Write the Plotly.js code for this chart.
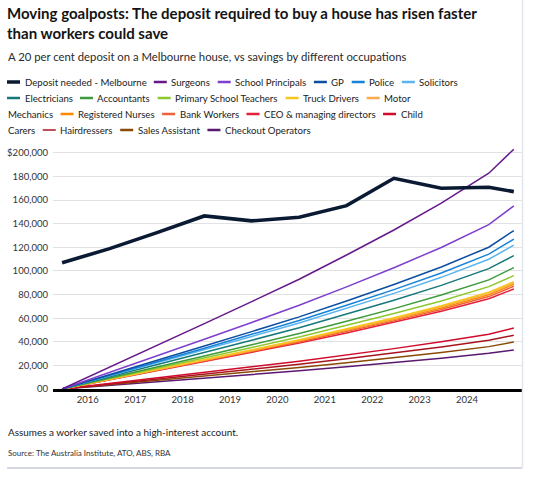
<!DOCTYPE html>
<html><head><meta charset="utf-8">
<script src="https://cdn.plot.ly/plotly-3.0.1.min.js"></script>
<style>html,body{margin:0;padding:0;background:#fff;overflow:hidden}#chart{width:534px;height:477px}</style>
</head><body><div id="chart"></div>
<script>
// ---- data ----
const dates = ["2015-07-01","2016-07-01","2017-07-01","2018-07-01","2019-07-01","2020-07-01","2021-07-01","2022-07-01","2023-07-01","2024-07-01","2025-01-10"];
const depositMelbourne = [107000,118900,132500,146600,142400,145500,155300,178500,170100,170900,167200];
const surgeons       = [0,18300,36700,55400,74000,93000,113500,134700,157400,182800,203100];
const principals     = [0,13900,28000,42200,56400,70900,86500,102700,119900,139300,155100];
const gp             = [0,12000,24100,36400,48600,61100,74600,88500,103400,120100,134200];
const police         = [0,11400,23000,34600,46300,58100,70900,84200,98300,114200,126900];
const solicitors     = [0,11000,22100,33300,44500,55900,68200,81000,94600,109900,121800];
const electricians   = [0,10200,20500,30900,41300,51900,63300,75200,87800,102000,113000];
const accountants    = [0,9200,18600,28000,37400,47000,57400,68100,79600,92400,102800];
const teachers       = [0,8700,17400,26300,35100,44100,53800,63900,74600,86700,96000];
const truckDrivers   = [0,8200,16500,24800,33200,41700,50900,60400,70600,82000,90900];
const mechanics      = [0,8100,16200,24500,32700,41100,50200,59500,69600,80800,89800];
const nurses         = [0,8000,16000,24200,32300,40600,49600,58800,68700,79800,88700];
const bankWorkers    = [0,7800,15700,23700,31700,39900,48600,57700,67400,78300,87000];
const ceos           = [0,7700,15400,23200,31000,38900,47500,56400,65900,76500,84700];
const childCarers    = [0,4600,9300,14100,18800,23600,28800,34200,40000,46400,51700];
const hairdressers   = [0,4100,8300,12500,16700,21000,25600,30400,35600,41300,45500];
const salesAssistant = [0,3600,7200,10900,14500,18300,22300,26500,30900,35900,39800];
const checkout       = [0,3000,6100,9200,12300,15400,18800,22300,26100,30300,33000];

const seriesNames = ["Deposit needed - Melbourne","Surgeons","School Principals","GP","Police","Solicitors","Electricians","Accountants","Primary School Teachers","Truck Drivers","Motor Mechanics","Registered Nurses","Bank Workers","CEO & managing directors","Child Carers","Hairdressers","Sales Assistant","Checkout Operators"];
const seriesValues = [depositMelbourne,surgeons,principals,gp,police,solicitors,electricians,accountants,teachers,truckDrivers,mechanics,nurses,bankWorkers,ceos,childCarers,hairdressers,salesAssistant,checkout];
const seriesColors = ["#0b1a33","#66198a","#7e3fcc","#0b4ea2","#1683d8","#5ab4f0","#17787a","#3c9b3c","#8cc82e","#f7c51e","#fbab4a","#ff8a00","#f0603a","#e5213a","#d10b2b","#a8141e","#8a4a05","#5b1870"];
const xTickVals = ["2016-01-15","2017-01-15","2018-01-15","2019-01-15","2020-01-15","2021-01-15","2022-01-15","2023-01-15","2024-01-15"];
const xTickText = ["2016","2017","2018","2019","2020","2021","2022","2023","2024"];
const yTickVals = [0,20000,40000,60000,80000,100000,120000,140000,160000,180000,200000];
const yTickText = ["00","20,000","40,000","60,000","80,000","100,000","120,000","140,000","160,000","180,000","$200,000"];

// ---- layout helpers ----
const FONT = "Lato, 'Noto Sans', sans-serif";
const W = 534, H = 477, L = 53, R = 12, T = 147, B = 88;
const PW = W - L - R, PH = H - T - B;
const px2x = p => (p - L) / PW;
const px2y = p => (H - B - p) / PH;
const ctx = document.createElement('canvas').getContext('2d');
function tw(text, size, weight){ ctx.font = (weight||'normal') + ' ' + size + 'px ' + FONT; return ctx.measureText(text).width; }
function fit(text, target, weight, max){ const s = 20*target/tw(text,20,weight); return Math.min(s, max||99); }

const titleSize = fit("Moving goalposts: The deposit required to buy a house has risen faster", 471, 'bold', 17);
const subSize = fit("A 20 per cent deposit on a Melbourne house, vs savings by different occupations", 400, 'normal', 13);
const legSize = fit("Deposit needed - Melbourne", 122, 'normal', 11.5);
const noteSize = fit("Assumes a worker saved into a high-interest account.", 231, 'normal', 11);
const srcSize = fit("Source: The Australia Institute, ATO, ABS, RBA", 164, 'normal', 9);
const tickSize = fit("$200,000", 41, 'normal', 11);

// ---- traces ----
const traces = [];
for (let i = seriesNames.length - 1; i >= 0; i--) {
  traces.push({
    type: 'scatter', mode: 'lines', name: seriesNames[i], x: dates, y: seriesValues[i],
    line: {color: seriesColors[i], width: i === 0 ? 3.6 : 1.5}, showlegend: false, hoverinfo: 'skip'
  });
}

// ---- custom flowing legend ----
const shapes = [], annotations = [];
const rowY = [82, 98, 114, 130];
const breakBefore = {"Electricians": true};
const breakAfterWords = {"Motor Mechanics": 1, "Child Carers": 1};
let cx = 7, row = 0;
function addText(text, x, y, size, color, weight){
  annotations.push({text: text, x: px2x(x - 1), y: px2y(y), xref: 'paper', yref: 'paper', xanchor: 'left', yanchor: 'middle',
    showarrow: false, font: {family: FONT, size: size, color: color || '#222', weight: weight || 'normal'}});
}
seriesNames.forEach((name, i) => {
  if (breakBefore[name]) { row++; cx = 7; }
  const y = rowY[row];
  shapes.push({type: 'line', xref: 'paper', yref: 'paper', x0: px2x(cx), x1: px2x(cx + 13), y0: px2y(y), y1: px2y(y),
    line: {color: seriesColors[i], width: i === 0 ? 3.5 : (name === 'Hairdressers' ? 1.5 : 2.5)}});
  const tx = cx + 16.5;
  const nb = breakAfterWords[name];
  if (nb) {
    const words = name.split(' ');
    const first = words.slice(0, nb).join(' '), rest = words.slice(nb).join(' ');
    addText(first, tx, y, legSize);
    row++;
    addText(rest, 7, rowY[row], legSize);
    cx = 7 + tw(rest, legSize) + 8.5;
  } else {
    addText(name, tx, y, legSize);
    cx = tx + tw(name, legSize) + 8.5;
  }
});

// subtitle, notes
addText("A 20 per cent deposit on a Melbourne house, vs savings by different occupations", 7, 56, subSize, '#2a2a2a');
addText("Assumes a worker saved into a high-interest account.", 7, 432, noteSize, '#1a1a1a');
addText("Source: The Australia Institute, ATO, ABS, RBA", 7, 453, srcSize, '#333');

// frame lines
shapes.push({type: 'line', xref: 'paper', yref: 'paper', x0: px2x(7), x1: px2x(522.5), y0: px2y(468), y1: px2y(468), line: {color: '#c8cdd8', width: 1.5}});
shapes.push({type: 'line', xref: 'paper', yref: 'paper', x0: px2x(522.5), x1: px2x(522.5), y0: px2y(0), y1: px2y(468), line: {color: '#e2e5ec', width: 1.5}});

const layout = {
  width: W, height: H,
  margin: {l: L, r: R, t: T, b: B, pad: 0},
  paper_bgcolor: '#fff', plot_bgcolor: '#fff',
  title: {text: "Moving goalposts: The deposit required to buy a house has risen faster<br>than workers could save",
    x: 7/W, xanchor: 'left', xref: 'container', y: 1 - 19/H, yanchor: 'top', yref: 'container',
    font: {family: FONT, size: titleSize, color: '#141414', weight: 'bold'}},
  xaxis: {type: 'date', range: ['2015-04-22', '2025-03-14'], showgrid: false, zeroline: false,
    showline: true, linecolor: '#000', linewidth: 2.5, ticks: '', tickmode: 'array', tickvals: xTickVals, ticktext: xTickText,
    tickfont: {family: FONT, size: tickSize, color: '#333'}, fixedrange: true},
  yaxis: {range: [0, 205000], tickvals: yTickVals, ticktext: yTickText, showgrid: true, gridcolor: '#e2e2e2', gridwidth: 1,
    zeroline: false, showline: false, ticks: '', ticklabelstandoff: 4,
    tickfont: {family: FONT, size: tickSize, color: '#333'}, fixedrange: true},
  shapes: shapes, annotations: annotations, showlegend: false, hovermode: false
};
Plotly.newPlot('chart', traces, layout, {displayModeBar: false, staticPlot: true});
</script>
</body></html>
